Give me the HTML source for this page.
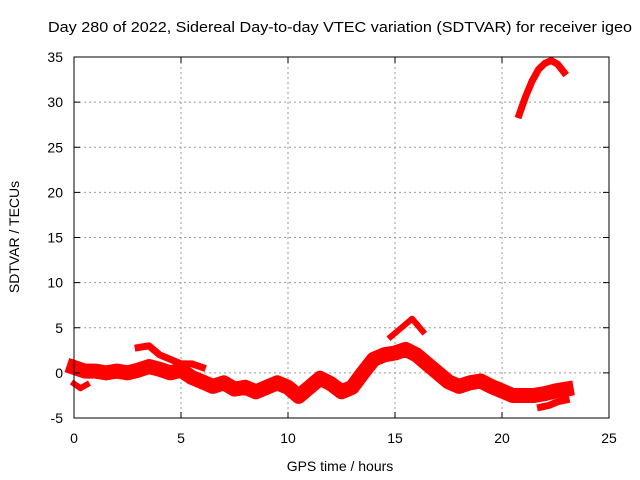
<!DOCTYPE html>
<html><head><meta charset="utf-8"><style>
body{margin:0;background:#fff}
svg{display:block;font-family:"Liberation Sans",sans-serif;font-size:14px}
</style></head><body>
<svg id="c" width="640" height="480">
<text x="340" y="32" text-anchor="middle" font-size="14.5" textLength="584" lengthAdjust="spacingAndGlyphs">Day 280 of 2022, Sidereal Day-to-day VTEC variation (SDTVAR) for receiver igeo</text>
<text x="340" y="471" text-anchor="middle">GPS time / hours</text>
<text transform="translate(19,237) rotate(-90)" text-anchor="middle">SDTVAR / TECUs</text>
<g id="grid"></g><g id="marks"></g><g id="axes"></g>
</svg>
<script>
const xTicks=[0,5,10,15,20,25];
const yTicks=[-5,0,5,10,15,20,25,30,35];
const mainHours=[0,0.5,1,1.5,2,2.5,3,3.5,4,4.5,5,5.5,6,6.5,7,7.5,8,8.5,9,9.5,10,10.5,11,11.5,12,12.5,13,13.5,14,14.5,15,15.5,16,16.5,17,17.5,18,18.5,19,19.5,20,20.5,21,21.5,22,22.5,23];
const mainValues=[0.6,0.2,0.2,0,0.2,0,0.3,0.7,0.4,0,0.3,-0.5,-1,-1.5,-1.1,-1.8,-1.6,-2.1,-1.6,-1.1,-1.6,-2.6,-1.6,-0.6,-1.2,-2.1,-1.6,0,1.5,2,2.2,2.6,2,1,0,-1,-1.5,-1.1,-0.9,-1.5,-2,-2.5,-2.5,-2.5,-2.3,-2,-1.8];
const upperHours=[3,3.5,4,4.5,5,5.5,6];
const upperValues=[2.8,3,2,1.5,1,1,0.6];
const lowBranchHours=[0,0.3,0.6];
const lowBranchValues=[-1.2,-1.7,-1.3];
const lateLowHours=[21.8,22.2,22.6,23];
const lateLowValues=[-3.8,-3.6,-3.2,-3];
const peakHours=[14.8,15.3,15.8,16.3];
const peakValues=[4,5,6,4.6];
const arcHours=[20.8,21.1,21.4,21.7,22,22.3,22.6,22.9];
const arcValues=[28.6,30.6,32.3,33.6,34.3,34.6,34.2,33.3];
const X0=74,X1=609,Y0=418,Y1=57;
const sx=h=>X0+(h-0)/(25-0)*(X1-X0);
const sy=v=>Y0-(v+5)/(35+5)*(Y0-Y1);
const NS="http://www.w3.org/2000/svg";
const mk=(t,a,p)=>{const e=document.createElementNS(NS,t);for(const k in a)e.setAttribute(k,a[k]);p.appendChild(e);return e;};
const grid=document.getElementById('grid'),axes=document.getElementById('axes'),marks=document.getElementById('marks');
xTicks.forEach(t=>{const x=sx(t);
 if(t>0&&t<25){const g=mk('line',{x1:x,x2:x,y1:Y1,y2:Y0,stroke:'#999','stroke-dasharray':'2,3'},grid);
 
 }
 mk('line',{x1:x,x2:x,y1:Y0,y2:Y0-6,stroke:'#000'},axes);mk('line',{x1:x,x2:x,y1:Y1,y2:Y1+6,stroke:'#000'},axes);
 const l=mk('text',{x:x,y:443,'text-anchor':'middle'},axes);l.textContent=t;
 
 });
yTicks.forEach(t=>{const y=sy(t);
 if(t>-5&&t<35){const g=mk('line',{x1:X0,x2:X1,y1:y,y2:y,stroke:'#999','stroke-dasharray':'2,3'},grid);
 
 }
 mk('line',{x1:X0,x2:X0+6,y1:y,y2:y,stroke:'#000'},axes);mk('line',{x1:X1,x2:X1-6,y1:y,y2:y,stroke:'#000'},axes);
 const l=mk('text',{x:63,y:y+5,'text-anchor':'end'},axes);l.textContent=t;
 
 });
const box=mk('rect',{x:X0,y:Y1,width:X1-X0,height:Y0-Y1,fill:'none',stroke:'#000'},axes);


function series(hs,vs,w,name){
 const p=mk('polyline',{points:hs.map((h,i)=>sx(h)+','+sy(vs[i])).join(' '),fill:'none',stroke:'#f00','stroke-width':w,'stroke-linejoin':'round','stroke-linecap':'square'},marks);
 
 
}
series(mainHours,mainValues,15,'sdtvar-main-band');
series(upperHours,upperValues,7,'sdtvar-upper-band');
series(lowBranchHours,lowBranchValues,6,'sdtvar-low-branch');
series(lateLowHours,lateLowValues,7,'sdtvar-late-low-branch');
series(peakHours,peakValues,6,'sdtvar-peak-segment');
series(arcHours,arcValues,7,'sdtvar-high-arc');
</script>
</body></html>
